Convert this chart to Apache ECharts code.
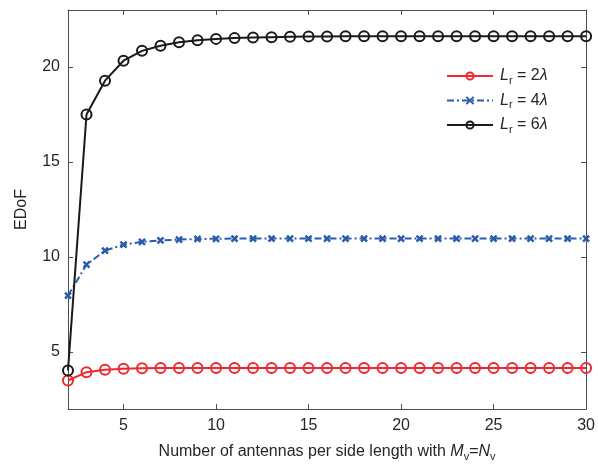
<!DOCTYPE html>
<html>
<head>
<meta charset="utf-8">
<script src="https://cdn.jsdelivr.net/npm/echarts@6/dist/echarts.min.js"></script>
<style>
  html, body { margin: 0; padding: 0; background: #fff; }
  #ChartDom { width: 598px; height: 467px; }
</style>
</head>
<body>
<div id="ChartDom"></div>
<script>
// data
const antennas = [2, 3, 4, 5, 6, 7, 8, 9, 10, 11, 12, 13, 14, 15, 16, 17, 18, 19, 20, 21, 22, 23, 24, 25, 26, 27, 28, 29, 30]
const lrValues = [2, 4, 6]
const edofL2 = [3.5, 3.94, 4.06, 4.12, 4.15, 4.16, 4.16, 4.16, 4.16, 4.16, 4.16, 4.16, 4.16, 4.16, 4.16, 4.16, 4.16, 4.16, 4.16, 4.16, 4.16, 4.16, 4.16, 4.16, 4.16, 4.16, 4.16, 4.16, 4.16]
const edofL4 = [7.97, 9.6, 10.33, 10.65, 10.8, 10.87, 10.92, 10.95, 10.96, 10.97, 10.97, 10.97, 10.97, 10.97, 10.97, 10.97, 10.97, 10.97, 10.97, 10.97, 10.97, 10.97, 10.97, 10.97, 10.97, 10.97, 10.97, 10.97, 10.97]
const edofL6 = [4.03, 17.5, 19.28, 20.33, 20.85, 21.12, 21.3, 21.41, 21.48, 21.52, 21.55, 21.57, 21.59, 21.6, 21.61, 21.62, 21.62, 21.62, 21.62, 21.62, 21.62, 21.62, 21.62, 21.62, 21.62, 21.62, 21.62, 21.62, 21.62]
const xTicks = [5, 10, 15, 20, 25, 30]
const yTicks = [5, 10, 15, 20]

const font = "'Liberation Sans', Arial, sans-serif"
const textColor = "#262626"
const axisColor = "#4d4d4d"

const chartDom = document.getElementById("ChartDom")
const myChart = echarts.init(chartDom)

function pairs(ys) {
  return antennas.map((x, i) => [x, ys[i]])
}

const names = lrValues.map((v) => "L_r = " + v + "λ")

const rich = {
  i: { fontFamily: font, fontSize: 16, fontStyle: "italic", color: textColor },
  n: { fontFamily: font, fontSize: 16, color: textColor },
  s: { fontFamily: font, fontSize: 11, color: textColor, padding: [9, 0, 0, 0] },
}

function baseX(pos) {
  return {
    type: "value",
    position: pos,
    min: 2,
    max: 30,
    axisLine: { show: true, onZero: false, lineStyle: { color: axisColor, width: 1 } },
    axisTick: { show: true, inside: true, length: 5, customValues: xTicks, lineStyle: { color: axisColor } },
    axisLabel: {
      show: pos === "bottom",
      customValues: xTicks,
      color: textColor,
      fontFamily: font,
      fontSize: 16,
      margin: 9,
    },
    splitLine: { show: false },
  }
}

function baseY(pos) {
  return {
    type: "value",
    position: pos,
    min: 2,
    max: 23,
    axisLine: { show: true, onZero: false, lineStyle: { color: axisColor, width: 1 } },
    axisTick: { show: true, inside: true, length: 5, customValues: yTicks, lineStyle: { color: axisColor } },
    axisLabel: {
      show: pos === "left",
      customValues: yTicks,
      color: textColor,
      fontFamily: font,
      fontSize: 16,
      margin: 8,
    },
    splitLine: { show: false },
  }
}

let xBottom = baseX("bottom")
xBottom.name = "{n|Number of antennas per side length with }{i|M}{s|v}{n|=}{i|N}{s|v}"
xBottom.nameLocation = "middle"
xBottom.nameGap = 33
xBottom.nameTextStyle = { rich: rich }

let yLeft = baseY("left")
yLeft.name = "EDoF"
yLeft.nameLocation = "middle"
yLeft.nameGap = 38
yLeft.nameTextStyle = { color: textColor, fontFamily: font, fontSize: 16 }

const colors = ["#f0282f", "#2a5cad", "#1a1a1a"]
const circle = "circle"
const cross = "path://M0,0L10,10M10,0L0,10"

let option = {
  animation: false,
  grid: { left: 68, right: 11, top: 10, bottom: 56, containLabel: false },
  legend: {
    orient: "vertical",
    left: 441,
    top: 63,
    itemWidth: 46,
    itemHeight: 9,
    itemGap: 6.5,
    data: names,
    formatter: (name) => {
      const v = name.split("= ")[1].replace("λ", "")
      return "{i|L}{s|r}{n| = " + v + "}{i|λ}"
    },
    textStyle: { rich: rich, padding: [0, 0, 0, 2] },
  },
  xAxis: [xBottom, baseX("top")],
  yAxis: [yLeft, baseY("right")],
  series: [
    {
      name: names[0],
      type: "line",
      data: pairs(edofL2),
      symbol: circle,
      symbolSize: 10,
      lineStyle: { color: colors[0], width: 2 },
      itemStyle: { color: "rgba(0,0,0,0)", borderColor: colors[0], borderWidth: 2 },
      z: 3,
    },
    {
      name: names[1],
      type: "line",
      data: pairs(edofL4),
      symbol: cross,
      symbolSize: 6,
      lineStyle: { color: colors[1], width: 2, type: [7, 3, 2, 3] },
      itemStyle: { color: "rgba(0,0,0,0)", borderColor: colors[1], borderWidth: 2.5 },
      z: 2,
    },
    {
      name: names[2],
      type: "line",
      data: pairs(edofL6),
      symbol: circle,
      symbolSize: 10,
      lineStyle: { color: colors[2], width: 2 },
      itemStyle: { color: "rgba(0,0,0,0)", borderColor: colors[2], borderWidth: 2 },
      z: 4,
    },
  ],
}

myChart.setOption(option)
</script>
</body>
</html>
